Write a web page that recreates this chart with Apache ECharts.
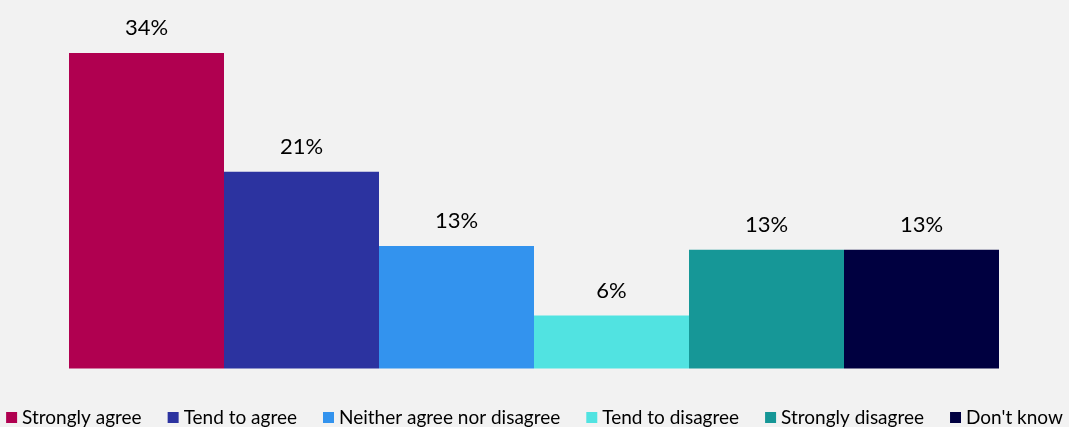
<!DOCTYPE html>
<html>
<head>
<meta charset="utf-8">
<script src="https://cdn.jsdelivr.net/npm/echarts@6/dist/echarts.min.js"></script>
<style>
  html, body { margin: 0; padding: 0; background: #f2f2f2; }
  #chart { width: 1069px; height: 427px; }
</style>
</head>
<body>
<div id="chart"></div>
<script>
// Survey response shares (percent)
const categories = ['Strongly agree', 'Tend to agree', 'Neither agree nor disagree', 'Tend to disagree', 'Strongly disagree', "Don't know"];
const values = [34, 21.2, 13.2, 5.7, 12.8, 12.8];
const colors = ['#b00050', '#2c33a0', '#3393ee', '#51e3e1', '#169797', '#000040'];

const FONT = 'Lato, "Open Sans", sans-serif';

const chart = echarts.init(document.getElementById('chart'));

const series = categories.map((name, i) => ({
  name: name,
  type: 'bar',
  data: [values[i]],
  barGap: 0,
  barCategoryGap: 0,
  itemStyle: { color: colors[i] },
  label: {
    show: true,
    position: 'top',
    distance: 14,
    fontFamily: FONT,
    fontSize: 22,
    color: '#000',
    formatter: p => Math.round(p.value) + '%'
  }
}));

chart.setOption({
  backgroundColor: '#f2f2f2',
  animation: false,
  grid: { left: 69, right: 70, top: 53, bottom: 58.5 },
  xAxis: {
    type: 'category',
    data: [''],
    axisLine: { show: false },
    axisTick: { show: false },
    axisLabel: { show: false }
  },
  yAxis: {
    type: 'value',
    min: 0,
    max: 34,
    show: false,
    splitLine: { show: false }
  },
  legend: {
    top: 408,
    left: 'center',
    padding: 0,
    itemWidth: 11,
    itemHeight: 11,
    itemGap: 26,
    icon: 'rect',
    textStyle: { fontFamily: FONT, fontSize: 19, color: '#000' },
    data: categories
  },
  series: series
});
</script>
</body>
</html>
